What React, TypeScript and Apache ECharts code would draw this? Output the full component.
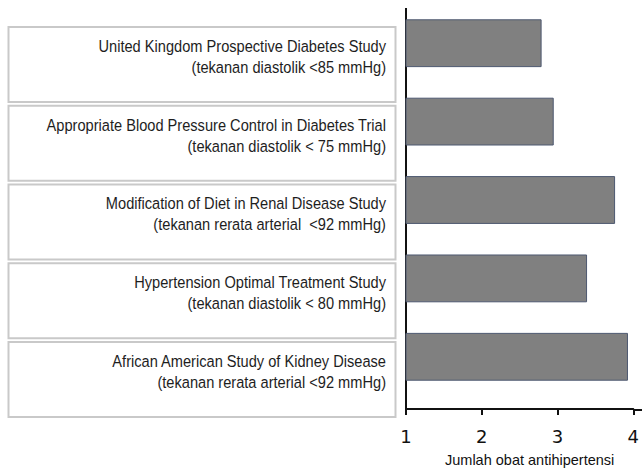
import React, { useEffect, useRef } from "react";
import * as echarts from "echarts";

const studyNames = [
  "United Kingdom Prospective Diabetes Study",
  "Appropriate Blood Pressure Control in Diabetes Trial",
  "Modification of Diet in Renal Disease Study",
  "Hypertension Optimal Treatment Study",
  "African American Study of Kidney Disease",
];
const targets = [
  "(tekanan diastolik <85 mmHg)",
  "(tekanan diastolik < 75 mmHg)",
  "(tekanan rerata arterial  <92 mmHg)",
  "(tekanan diastolik < 80 mmHg)",
  "(tekanan rerata arterial <92 mmHg)",
];
const drugCounts = [2.79, 2.95, 3.76, 3.39, 3.93];
const xTicks = [1, 2, 3, 4];
const xAxisTitle = "Jumlah obat antihipertensi";

const LABEL_FONT = "'Liberation Sans', Arial, sans-serif";

export default function App() {
  const ref = useRef<HTMLDivElement>(null);
  useEffect(() => {
    if (!ref.current) return;
    const chart = echarts.init(ref.current, undefined, { renderer: "svg" });
    const boxes: any[] = [];
    studyNames.forEach((name, i) => {
      const top = 27 + i * 78.75;
      boxes.push({
        type: "rect",
        shape: { x: 8.5, y: top, width: 387, height: 75 },
        style: { fill: "#ffffff", stroke: "#c9c9c9", lineWidth: 2 },
      });
      boxes.push({
        type: "text",
        x: 386,
        y: top + 19,
        scaleX: 0.86,
        style: {
          text: name,
          fill: "#1e1e1e",
          font: `17px ${LABEL_FONT}`,
          align: "right",
          verticalAlign: "middle",
        },
      });
      boxes.push({
        type: "text",
        x: 386,
        y: top + 40,
        scaleX: 0.86,
        style: {
          text: targets[i],
          fill: "#1e1e1e",
          font: `17px ${LABEL_FONT}`,
          align: "right",
          verticalAlign: "middle",
        },
      });
    });
    boxes.push({
      type: "line",
      shape: { x1: 406, y1: 8, x2: 406, y2: 411 },
      style: { stroke: "#111111", lineWidth: 2 },
    });
    boxes.push({
      type: "line",
      shape: { x1: 634, y1: 410, x2: 642, y2: 410 },
      style: { stroke: "#111111", lineWidth: 2 },
    });
    chart.setOption({
      animation: false,
      backgroundColor: "#ffffff",
      grid: { left: 406, right: 7, top: 4, bottom: 75 },
      xAxis: {
        type: "value",
        min: xTicks[0],
        max: xTicks[xTicks.length - 1],
        interval: 1,
        offset: 13,
        splitLine: { show: false },
        axisLine: { show: true, lineStyle: { color: "#111111", width: 2 } },
        axisTick: { show: true, length: 6, lineStyle: { color: "#111111", width: 2 } },
        axisLabel: {
          fontSize: 18,
          color: "#111111",
          margin: 18,
          fontFamily: "'DejaVu Sans', Verdana, sans-serif",
        },
        name: xAxisTitle,
        nameLocation: "middle",
        nameGap: 43,
        nameTextStyle: {
          fontSize: 14.5,
          color: "#111111",
          fontFamily: LABEL_FONT,
          padding: [0, 0, 0, 20],
        },
      },
      yAxis: {
        type: "category",
        inverse: true,
        data: studyNames,
        axisLine: { show: false },
        axisTick: { show: false },
        axisLabel: { show: false },
      },
      series: [
        {
          type: "bar",
          data: drugCounts,
          barCategoryGap: "39%",
          itemStyle: { color: "#808080", borderColor: "#4d5870", borderWidth: 1 },
        },
      ],
      graphic: boxes,
    });
    return () => chart.dispose();
  }, []);
  return (
    <div
      ref={ref}
      style={{ position: "fixed", left: 0, top: 0, width: 642, height: 472 }}
    />
  );
}
